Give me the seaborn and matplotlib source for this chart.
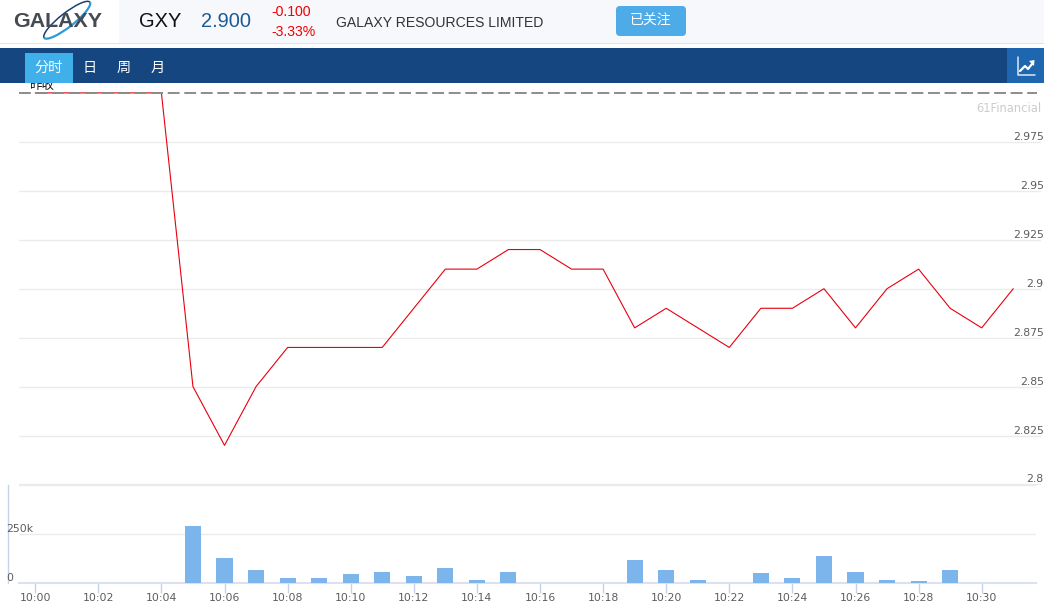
import matplotlib
matplotlib.use("Agg")
import matplotlib.pyplot as plt
from matplotlib.patches import Rectangle, FancyBboxPatch, Arc, Polygon
import seaborn as sns
import numpy as np

sns.set_style("white")
plt.rcParams['font.family'] = ['Liberation Sans', 'Noto Sans CJK SC', 'DejaVu Sans']

minutes = list(range(32))
prices = [3.0, 3.0, 3.0, 3.0, 3.0, 2.85, 2.82, 2.85, 2.87, 2.87, 2.87, 2.87, 2.89, 2.91, 2.91, 2.92,
          2.92, 2.91, 2.91, 2.88, 2.89, 2.88, 2.87, 2.89, 2.89, 2.90, 2.88, 2.90, 2.91, 2.89, 2.88, 2.90]
volumes = [0, 0, 0, 0, 0, 291000, 129000, 68000, 27000, 27000, 48000, 54000, 34000, 75000, 14000, 54000,
           0, 0, 0, 119000, 68000, 14000, 0, 52000, 24000, 136000, 58000, 17000, 12000, 68000, 0, 0]
price_ticks = [2.8, 2.825, 2.85, 2.875, 2.9, 2.925, 2.95, 2.975]
price_tick_labels = ['2.8', '2.825', '2.85', '2.875', '2.9', '2.925', '2.95', '2.975']
prev_close = 3.0
vol_ticks = [0, 250000, 500000]
vol_tick_labels = ['0', '250k']
time_ticks = list(range(0, 31, 2))
time_labels = [f"10:{m:02d}" for m in time_ticks]

W, H = 1044, 608
fig = plt.figure(figsize=(W / 100, H / 100), dpi=100, facecolor='white')


def rect(l, t, r, b):
    return [l / W, 1 - b / H, (r - l) / W, (b - t) / H]


X0, PXMIN = 35.2, 31.55
Y28, PXUNIT = 484.5, 48.95 / 0.025


def xl(l, r):
    return ((l - X0) / PXMIN, (r - X0) / PXMIN)


TXT = '#5c5c5c'
GRID = '#ebebeb'
TICK = '#c6d2e8'

# price panel
ax = fig.add_axes(rect(19, 83, 1041, 484.5), zorder=1)
ax.set_facecolor('none')
sns.lineplot(x=minutes, y=prices, ax=ax, color='#e8000e', linewidth=0.8, zorder=3)
ax.set_xlim(*xl(19, 1041))
ax.set_ylim(2.8, 2.8 + (484.5 - 83) / PXUNIT)
ax.set_yticks(price_ticks)
ax.set_xticks([])
ax.set_xlabel('')
ax.set_ylabel('')
ax.tick_params(left=False, labelleft=False)
ax.grid(axis='y', color=GRID, linewidth=1.0)
ax.grid(axis='x', visible=False)
for s in ax.spines.values():
    s.set_visible(False)
ax.plot(xl(19, 1037), [prev_close, prev_close], color='#8c8c8c', lw=1.4,
        dashes=(6.1, 2.4), zorder=4)
tr = ax.get_yaxis_transform()
for v, lab in zip(price_ticks, price_tick_labels):
    ax.annotate(lab, (1, v), xycoords=tr, xytext=(2, 0), textcoords='offset points',
                ha='right', va='bottom', fontsize=7.8, color=TXT,
                family='DejaVu Sans', annotation_clip=False)

# volume panel
vx = fig.add_axes(rect(19, 484.5, 1036, 583), zorder=2)
vx.set_facecolor('none')
sns.barplot(x=minutes, y=volumes, ax=vx, native_scale=True, color='#7cb5ec', width=0.51,
            saturation=1, errorbar=None, linewidth=0, zorder=3)
vx.set_xlim(*xl(19, 1036))
vx.set_ylim(0, 500000)
vx.set_yticks(vol_ticks)
vx.set_xticks(time_ticks)
vx.set_xticklabels(time_labels, fontsize=7.8, color=TXT, family='DejaVu Sans')
vx.set_xlabel('')
vx.set_ylabel('')
vx.tick_params(axis='x', length=7, width=1, color=TICK, pad=0, bottom=True)
vx.tick_params(axis='y', left=False, labelleft=False)
vx.grid(axis='y', color=GRID, linewidth=1.0)
vx.grid(axis='x', visible=False)
vx.set_axisbelow(True)
for s in ('top', 'right'):
    vx.spines[s].set_visible(False)
vx.spines['bottom'].set_color('#dbe1ee')
vx.spines['bottom'].set_linewidth(1.5)
vx.spines['left'].set_position(('outward', 8))
vx.spines['left'].set_color(TICK)
vx.spines['left'].set_linewidth(1)
vt = vx.get_yaxis_transform()
for v, lab in zip(vol_ticks, vol_tick_labels):
    vx.annotate(lab, (0, v), xycoords=vt, xytext=(-9.5, 0), textcoords='offset points',
                ha='left', va='bottom', fontsize=7.8, color=TXT,
                family='DejaVu Sans', annotation_clip=False)

# page chrome, in pixel coordinates
ov = fig.add_axes([0, 0, 1, 1], zorder=10)
ov.set_xlim(0, W)
ov.set_ylim(H, 0)
ov.axis('off')
ov.patch.set_alpha(0)

ov.add_patch(Rectangle((119, 0), W - 119, 43, color='#f7f8fb', lw=0))
ov.add_patch(Rectangle((0, 43), W, 1.2, color='#e0e2e6', lw=0))
ov.add_patch(Rectangle((0, 48), W, 35, color='#154680', lw=0))
ov.add_patch(Rectangle((25, 53), 48, 30, color='#3fb0ea', lw=0))
ov.add_patch(Rectangle((1007, 48), 37, 35, color='#1f66b1', lw=0))
ov.add_patch(FancyBboxPatch((618, 8), 66, 26, boxstyle='round,pad=2,rounding_size=4',
                            color='#4dace8', lw=0))

# logo
ov.text(57.5, 21.5, 'GALAXY', ha='center', va='center', fontsize=15.4, fontweight='bold',
        color='#454b52', family='Liberation Sans')
ov.add_patch(Arc((67, 20), 58, 14, angle=-38, theta1=0, theta2=180, color='#2e9ad8', lw=1.6))
ov.add_patch(Arc((67, 20), 58, 14, angle=-38, theta1=180, theta2=360, color='#1d3f6e', lw=1.1))

ov.text(139, 21.5, 'GXY', ha='left', va='center', fontsize=14.4, color='#111111')
ov.text(201, 21.5, '2.900', ha='left', va='center', fontsize=14.4, color='#1a5a96')
ov.text(271, 11.5, '-0.100', ha='left', va='center', fontsize=10.1, color='#f00000')
ov.text(271, 31.5, '-3.33%', ha='left', va='center', fontsize=10.1, color='#f00000')
ov.text(336, 23, 'GALAXY RESOURCES LIMITED', ha='left', va='center', fontsize=10.1, color='#333333')
ov.text(651, 21, '已关注', ha='center', va='center', fontsize=10, color='white')
for x, s in zip([49, 90, 124, 158], ['分时', '日', '周', '月']):
    ov.text(x, 68, s, ha='center', va='center', fontsize=10.2, color='white')

# trend icon
ov.plot([1017.5, 1017.5, 1035], [57, 75, 75], color='#dbe8f5', lw=1.1)
ov.plot([1020, 1025, 1028, 1032], [71, 66, 69, 64], color='white', lw=1.6)
ov.add_patch(Polygon([[1029, 61], [1034.5, 60], [1034, 66]], color='white', lw=0))

# labels beneath the header band
fig.text(29 / W, 1 - 86 / H, '昨收', ha='left', va='center', fontsize=9, color='#111111', zorder=5)
fig.text(1041 / W, 1 - 109 / H, '61Financial', ha='right', va='center', fontsize=8.3,
         color='#cccccc', family='DejaVu Sans', zorder=5)

fig.savefig('out.png', dpi=100)
